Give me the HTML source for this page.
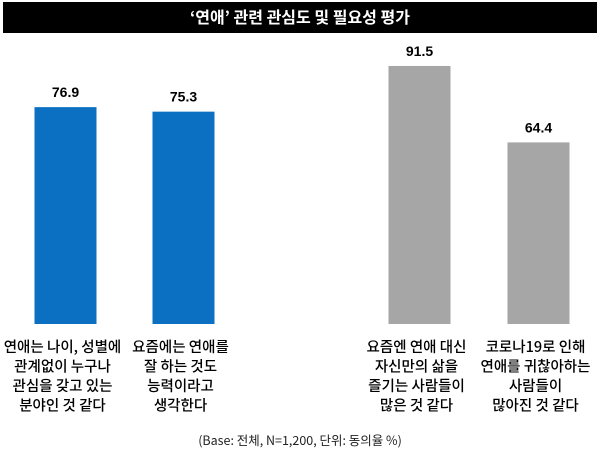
<!DOCTYPE html>
<html><head><meta charset="utf-8"><style>
body{margin:0;background:#fff;width:600px;height:459px;overflow:hidden;font-family:"Liberation Sans","Noto Sans CJK KR",sans-serif;}
</style></head><body>
<svg width="600" height="459">
<rect x="3" y="2" width="594" height="31" fill="#000"/>
<text x="300" y="23" text-anchor="middle" fill="#fff" font-size="16" font-weight="bold" font-family="Noto Sans CJK KR, sans-serif">‘연애’ 관련 관심도 및 필요성 평가</text>
<g id="bars"></g>
<text x="300" y="445" text-anchor="middle" font-size="12.5" fill="#222" font-family="Noto Sans CJK KR, sans-serif">(Base: 전체, N=1,200, 단위: 동의율 %)</text>
</svg>
<script>
const categories=[["연애는 나이, 성별에","관계없이 누구나","관심을 갖고 있는","분야인 것 같다"],["요즘에는 연애를","잘 하는 것도","능력이라고","생각한다"],["요즘엔 연애 대신","자신만의 삶을","즐기는 사람들이","많은 것 같다"],["코로나19로 인해","연애를 귀찮아하는","사람들이","많아진 것 같다"]];
const values=[76.9,75.3,91.5,64.4];
const valueLabels=["76.9","75.3","91.5","64.4"];
const colors=["#0b6fc2","#0b6fc2","#a6a6a6","#a6a6a6"];
const centers=[65.5,183.5,419.5,538.5];
const base=324, k=2.82;
const y=v=>base-v*k;
const g=document.getElementById('bars');
const ns="http://www.w3.org/2000/svg";
values.forEach((v,i)=>{
 const r=document.createElementNS(ns,'rect');
 
 
 r.setAttribute('x',centers[i]-31);r.setAttribute('width',62);
 r.setAttribute('y',y(v));r.setAttribute('height',base-y(v));r.setAttribute('fill',colors[i]);
 g.appendChild(r);
 const t=document.createElementNS(ns,'text');
 
 
 t.setAttribute('x',centers[i]);t.setAttribute('y',y(v)-10);
 t.setAttribute('text-anchor','middle');t.setAttribute('font-size','14');t.setAttribute('font-weight','bold');
 t.textContent=valueLabels[i];g.appendChild(t);
 categories[i].forEach((line,j)=>{
  const c=document.createElementNS(ns,'text');
  
  
  c.setAttribute('x',centers[i]-3);c.setAttribute('y',352+j*19.5);
  c.setAttribute('text-anchor','middle');c.setAttribute('font-size','14.5');
  c.setAttribute('font-family','Noto Sans CJK KR, sans-serif');c.setAttribute('font-weight','500');
  c.textContent=line;g.appendChild(c);
 });
});
</script>
</body></html>
